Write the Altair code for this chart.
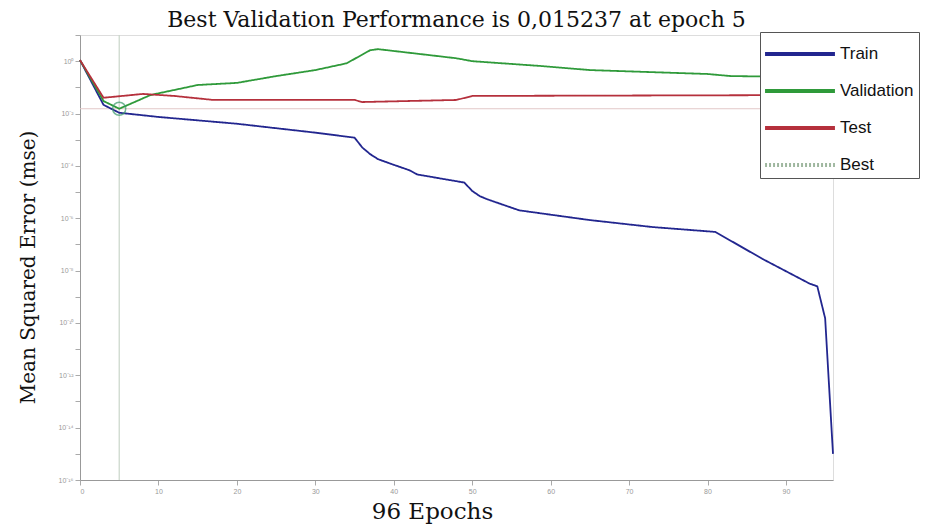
import altair as alt
import pandas as pd

# ---- data (MSE per epoch, log scale) ----
train_epochs = [0, 3, 5, 10, 20, 30, 35, 36, 37, 38, 40, 42, 43, 49, 50, 51, 52, 56, 65, 73, 81, 87, 93, 94, 95, 96]
train_mse = [1.10, 0.0214, 0.0107, 0.0074, 0.00407, 0.00186, 0.00120, 5.0e-4, 2.8e-4, 1.8e-4, 1.1e-4,
             6.8e-5, 4.7e-5, 2.3e-5, 1.1e-5, 6.9e-6, 5.2e-6, 2.0e-6, 8.5e-7, 4.6e-7, 3.0e-7,
             2.8e-8, 3.2e-9, 2.5e-9, 1.5e-10, 1.0e-15]

val_epochs = [0, 3, 5, 9, 15, 20, 25, 30, 34, 37, 38, 48, 50, 59, 65, 80, 83, 96]
val_mse = [1.10, 0.030, 0.015237, 0.051, 0.123, 0.148, 0.269, 0.457, 0.83, 2.63, 2.88,
           1.29, 1.0, 0.646, 0.457, 0.324, 0.269, 0.245]

test_epochs = [0, 3, 8, 12, 17, 35, 36, 48, 50, 96]
test_mse = [1.10, 0.040, 0.056, 0.047, 0.033, 0.033, 0.0275, 0.033, 0.047, 0.051]

best_epoch = 5
best_mse = 0.015237
max_epoch = 96

series_order = ["Train", "Validation", "Test", "Best"]
series_colors = ["#22268f", "#2f9a3a", "#b5303c", "#9fb79f"]
series_dash = [[1, 0], [1, 0], [1, 0], [2, 2]]

x_ticks = list(range(0, 100, 10))
y_ticks = [10.0 ** k for k in range(-16, 2)]
sup = {"0": "⁰", "1": "¹", "2": "²", "3": "³", "4": "⁴", "5": "⁵", "6": "⁶",
       "7": "⁷", "8": "⁸", "9": "⁹", "-": "⁻"}

# ---- build tables ----
rows = []
for e, v in zip(train_epochs, train_mse):
    rows.append({"epoch": e, "mse": v, "series": "Train"})
for e, v in zip(val_epochs, val_mse):
    rows.append({"epoch": e, "mse": v, "series": "Validation"})
for e, v in zip(test_epochs, test_mse):
    rows.append({"epoch": e, "mse": v, "series": "Test"})
df = pd.DataFrame(rows)
best_df = pd.DataFrame({"epoch": [0, max_epoch], "mse": [best_mse, best_mse]})

# label expression: only even decades get a label
conds = []
for k in range(1, -17, -1):
    lab = "" if k % 2 else "10" + "".join(sup[c] for c in str(k))
    conds.append((10.0 ** k * 0.5, lab))
expr = "''"
for thr, lab in reversed(conds):
    expr = f"datum.value > {thr} ? '{lab}' : ({expr})"

serif = "DejaVu Serif"

x_enc = alt.X("epoch:Q",
              scale=alt.Scale(domain=[0, max_epoch], nice=False, zero=False),
              axis=alt.Axis(values=x_ticks, title="96 Epochs", grid=False,
                            labelFontSize=7, labelColor="#999", tickColor="#aaa",
                            domainColor="#999", tickSize=5,
                            titleFont=serif, titleFontSize=23,
                            titleFontWeight="normal", titleColor="#111",
                            titleX=352, titleY=31, titleBaseline="middle", titleAlign="center"))
y_enc = alt.Y("mse:Q",
              scale=alt.Scale(type="log", domain=[1e-16, 10], nice=False),
              axis=alt.Axis(values=y_ticks, labelExpr=expr, title="Mean Squared Error (mse)",
                            grid=False, labelFontSize=7, labelColor="#999", tickColor="#aaa",
                            domainColor="#999", tickSize=5,
                            titleFont=serif, titleFontSize=20,
                            titleFontWeight="normal", titleColor="#111",
                            titleAngle=-90, titleX=-52, titleY=232,
                            titleBaseline="middle", titleAlign="center"))

leg = alt.Legend(title=None, orient="none", legendX=680, legendY=-3,
                 symbolType="M-2.33,0L2.33,0", symbolSize=900, symbolStrokeWidth=4,
                 symbolOffset=18, labelOffset=23,
                 labelFont="Liberation Sans", labelFontSize=17, labelColor="#111",
                 rowPadding=12, padding=5,
                 fillColor="white", strokeColor="#555")

color_enc = alt.Color("series:N", sort=series_order,
                      scale=alt.Scale(domain=series_order, range=series_colors), legend=leg)
dash_enc = alt.StrokeDash("series:N", sort=series_order,
                          scale=alt.Scale(domain=series_order, range=series_dash), legend=leg)

lines = alt.Chart(df).mark_line(strokeWidth=1.8).encode(
    x=x_enc, y=y_enc, color=color_enc, strokeDash=dash_enc)

best_line = alt.Chart(best_df).mark_line(strokeWidth=1, color="#e2c8c8").encode(
    x=x_enc, y=y_enc)

vrule = alt.Chart(pd.DataFrame({"epoch": [best_epoch]})).mark_rule(
    color="#c9d6c9", strokeWidth=1.2).encode(x=x_enc)

circle = alt.Chart(pd.DataFrame({"epoch": [best_epoch], "mse": [best_mse]})).mark_point(
    shape="circle", filled=False, size=170, color="#3a9a6a", strokeWidth=1.5).encode(x=x_enc, y=y_enc)

chart = alt.layer(vrule, best_line, lines, circle).properties(
    width=753, height=445,
    title=alt.Title("Best Validation Performance is 0,015237 at epoch 5",
                    font=serif, fontSize=22, fontWeight="normal",
                    color="#111", anchor="middle", offset=0),
    autosize=alt.AutoSizeParams(type="none"),
    padding={"left": 72, "top": 27, "right": 94, "bottom": 48},
).configure_view(stroke=None).configure(background="white")

chart.save("out.html", embed_options={"renderer": "svg", "actions": False})
